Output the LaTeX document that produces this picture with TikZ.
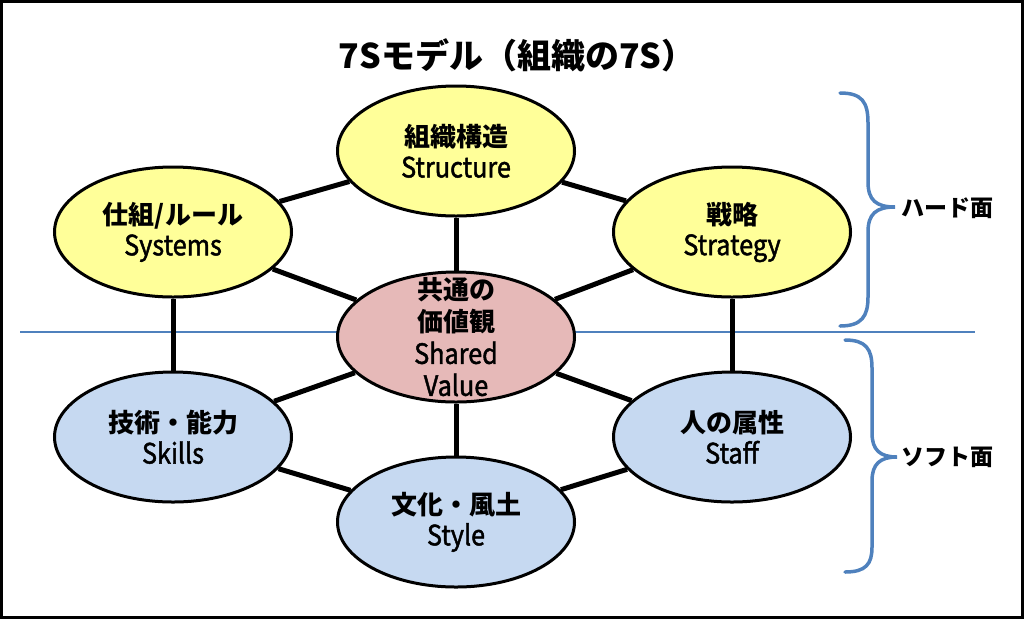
\documentclass[tikz,border=0pt]{standalone}
\usepackage{fontspec}
\setmainfont{Noto Sans CJK JP}
\newfontfamily\latinfont{Noto Sans CJK JP}[FakeStretch=0.9, FakeBold=1.6]
\usetikzlibrary{shapes.geometric, backgrounds}
\definecolor{hardfill}{RGB}{255,255,153}
\definecolor{corefill}{RGB}{230,185,184}
\definecolor{softfill}{RGB}{198,217,241}
\definecolor{sideblue}{RGB}{79,129,189}
\tikzset{
  sev/.style={ellipse, draw=black, line width=3pt, minimum width=237pt, minimum height=130pt,
    inner sep=0pt, align=center, font=\fontsize{26}{31}\selectfont},
  hard/.style={sev, fill=hardfill},
  soft/.style={sev, fill=softfill},
  core/.style={sev, fill=corefill},
  spoke/.style={line width=5pt, black},
  bracket/.style={line width=3.5pt, sideblue, line cap=round},
  side/.style={anchor=west, font=\fontsize{23}{23}\selectfont\bfseries},
}
\newcommand\jp[1]{{\bfseries #1}}
\newcommand\en[1]{{\latinfont\fontsize{28}{31}\selectfont #1}}

\begin{document}
\begin{tikzpicture}[x=1pt, y=-1pt]
\useasboundingbox (0,0) rectangle (1024,619);
\draw[line width=3pt] (1.5,1.5) rectangle (1022.5,617.5);
\node[font=\fontsize{34}{34}\selectfont\bfseries] at(517,55)(title){7Sモデル（組織の7S）};
% the seven S
\node[hard] at(456,151)(structure){\jp{組織構造}\\\en{Structure}};
\node[hard] at(173,232)(systems){\jp{仕組/ルール}\\\en{Systems}};
\node[hard] at(732,232)(strategy){\jp{戦略}\\\en{Strategy}};
\node[core, label={[align=center, font=\fontsize{26}{32}\selectfont]center:{\jp{共通の}\\\jp{価値観}\\\en{Shared}\\\en{Value}}}] at(456,337)(shared){};
\node[soft] at(173,437)(skills){\jp{技術・能力}\\\en{Skills}};
\node[soft] at(732,437)(staff){\jp{人の属性}\\\en{Staff}};
\node[soft] at(456,522)(style){\jp{文化・風土}\\\en{Style}};
\coordinate (divL) at (20,332);
\coordinate (divR) at (975,332);
\begin{scope}[on background layer]
\draw[sideblue, line width=1.5pt] (divL) -- (divR);
\path[spoke]
    (structure) edge (systems)
    (structure) edge (strategy)
    (systems) edge (skills)
    (strategy) edge (staff)
    (skills) edge (style)
    (staff) edge (style);
\path[spoke]
    (shared) edge (structure)
    (shared) edge (systems)
    (shared) edge (strategy)
    (shared) edge (skills)
    (shared) edge (staff)
    (shared) edge (style);
\end{scope}
% hard / soft braces
\draw[bracket] (840,93) .. controls (862,93) and (868,102) .. (868,123) -- (868,182)
    .. controls (868,200) and (876,207) .. (895,207) .. controls (876,207) and (868,214) .. (868,232)
    -- (868,297) .. controls (868,316) and (862,326) .. (840,326);
\draw[bracket] (845,340) .. controls (866,340) and (872,349) .. (872,368) -- (872,433)
    .. controls (872,450) and (880,457) .. (897,457) .. controls (880,457) and (872,464) .. (872,481)
    -- (872,547) .. controls (872,564) and (866,572) .. (845,572);
\node[side] at(898,208)(hardlbl){ハード面};
\node[side] at(898,457)(softlbl){ソフト面};
\end{tikzpicture}
\end{document}
